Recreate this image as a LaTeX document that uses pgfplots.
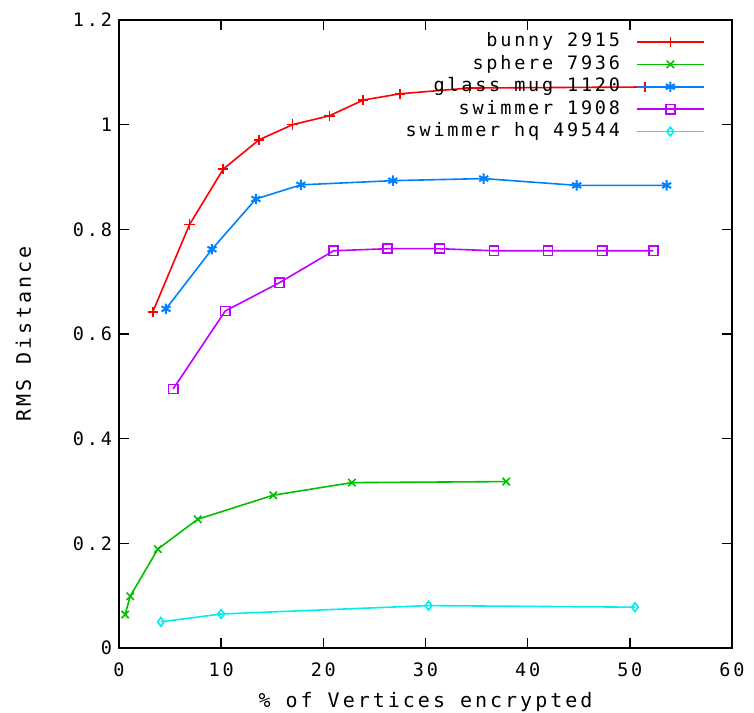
\documentclass[border=0pt]{standalone}
\usepackage{fontspec}
\setmainfont{DejaVu Sans Mono}[LetterSpace=15]
\usepackage{pgfplots}
\pgfplotsset{compat=1.18}

\definecolor{gpred}{HTML}{FF0000}
\definecolor{gpgreen}{HTML}{00C000}
\definecolor{gpblue}{HTML}{0080FF}
\definecolor{gpmagenta}{HTML}{C000FF}
\definecolor{gpcyan}{HTML}{00EEEE}

\newcommand{\chartfont}{\fontsize{9.25}{11}\selectfont}

\begin{document}
\begin{tikzpicture}
\useasboundingbox (-59.5pt,-32pt) rectangle (317.5pt,324pt);
\begin{axis}[
  at={(0,0)}, anchor=south west,
  scale only axis,
  width=306.5pt, height=314pt,
  xmin=0, xmax=60, ymin=0, ymax=1.2,
  xtick={0,10,...,60},
  ytick={0,0.2,...,1.2},
  tick align=inside,
  major tick length=5pt,
  axis line style={line width=0.8pt},
  every tick/.style={black, line width=0.8pt},
  /pgf/number format/assume math mode=true,
  yticklabel style={/pgf/number format/fixed},
  xticklabel style={yshift=-4pt},
  ticklabel style={font=\chartfont},
  label style={font=\chartfont},
  xlabel={\% of Vertices encrypted},
  ylabel={RMS Distance},
  every axis x label/.style={at={(axis description cs:0.5,-0.086)}, anchor=center},
  every axis y label/.style={at={(axis description cs:-0.156,0.5)}, anchor=center, rotate=90},
  legend plot pos=right,
  legend cell align=right,
  legend image code/.code={
    \draw[mark repeat=2,mark phase=2] plot coordinates {(0pt,0pt) (16.75pt,0pt) (33.5pt,0pt)};
  },
  legend style={
    at={(0.956,0.98)}, anchor=north east,
    draw=none, fill=none, inner sep=0pt,
    font=\chartfont,
    column sep=8pt, row sep=2.2pt,
    nodes={inner sep=0pt, text height=7pt, text depth=2pt},
  },
  every axis plot/.append style={line width=0.8pt},
]
\addplot[gpred, mark=+, mark size=2.6pt] coordinates {
  (3.3,0.642) (6.9,0.809) (10.2,0.915) (13.7,0.971) (17.0,1.000)
  (20.6,1.017) (23.9,1.047) (27.5,1.059) (34.3,1.070) (51.5,1.072)
};
\addlegendentry{bunny 2915}
\addplot[gpgreen, mark=x, mark size=2.6pt] coordinates {
  (0.6,0.064) (1.1,0.099) (3.8,0.189) (7.7,0.246) (15.1,0.292)
  (22.8,0.316) (37.9,0.318)
};
\addlegendentry{sphere 7936}
\addplot[gpblue, mark=asterisk, mark size=2.6pt, mark options={line width=1pt}] coordinates {
  (4.6,0.648) (9.1,0.762) (13.4,0.858) (17.8,0.885) (26.8,0.893)
  (35.7,0.897) (44.8,0.884) (53.6,0.884)
};
\addlegendentry{glass mug 1120}
\addplot[gpmagenta, mark=square, mark size=2.3pt] coordinates {
  (5.3,0.495) (10.4,0.644) (15.7,0.698) (21.0,0.759) (26.3,0.763)
  (31.4,0.763) (36.7,0.759) (42.0,0.759) (47.3,0.759) (52.3,0.759)
};
\addlegendentry{swimmer 1908}
\addplot[gpcyan, mark=diamond, mark size=2.2pt] coordinates {
  (4.1,0.050) (10.0,0.065) (30.3,0.081) (50.5,0.078)
};
\addlegendentry{swimmer hq 49544}
\end{axis}
\end{tikzpicture}
\end{document}
